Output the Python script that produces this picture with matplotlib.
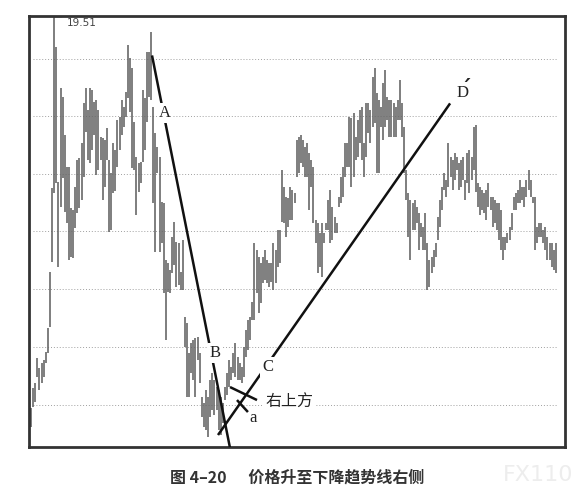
import numpy as np
import matplotlib
matplotlib.use('Agg')
import matplotlib.pyplot as plt

# daily high / low of the bars (left to right)
highs = [
    # run-up and first top
    11.67, 12.07, 12.17, 12.67, 12.47, 12.57, 12.63, 12.79, 13.27, 14.39,
    16.07, 19.51, 18.89, 16.19, 18.07, 17.89, 17.13, 16.49, 16.49, 15.67,
    15.63, 16.09, 16.63, 16.67, 16.97, 17.77, 18.07, 17.63, 18.07, 18.03,
    17.79, 17.83, 17.63, 17.09, 17.07, 17.03, 17.27, 16.63, 16.37, 16.97,
    16.83,
    # second top (A) and the fall to B
    17.43, 17.49, 17.83, 17.69, 17.99, 18.93, 18.67, 18.47, 17.39, 16.69,
    16.57, 16.59, 18.03, 17.87, 18.79, 18.79, 19.19, 17.69, 17.17, 16.89,
    16.69, 15.79, 15.77, 14.63, 14.57, 14.43, 15.09, 15.39, 14.99, 14.97,
    14.39, 15.03, 13.49, 13.37, 12.77, 12.97, 13.03, 13.07, 13.09, 12.77,
    # bottom and break-out (C)
    11.89, 11.77, 12.03, 11.89, 12.23, 12.37, 12.23, 12.09, 12.03, 11.89,
    11.77, 12.09, 12.37, 12.63, 12.49, 12.77, 12.97, 12.69, 12.57, 12.49,
    12.89, 13.23, 13.43, 13.49, 13.79, 14.97, 14.83, 14.69, 14.57, 14.69,
    14.83, 14.63, 14.57, 14.57, 14.97, 14.83, 15.23, 15.23,
    # rise toward D'
    16.43, 16.09, 15.89, 15.87, 16.09, 16.03, 15.97, 17.03, 17.09, 17.13,
    17.03, 16.89, 16.97, 16.77, 16.63, 16.49, 15.43, 15.37, 15.17, 15.37,
    15.17, 15.37, 15.83, 16.03, 15.69, 15.49, 15.37, 15.89, 16.29, 16.49,
    16.97, 16.97, 17.49, 17.47, 17.57, 17.09, 17.43, 17.63, 17.69, 16.97,
    17.77, 17.77, 17.63, 18.29,
    18.47, 17.97, 17.83, 17.69, 18.17, 18.43, 17.89, 17.83, 17.83, 17.77,
    17.69, 17.83, 18.23, 17.77, 17.29, 16.43, 15.97,
    # pull-back
    15.83, 15.77, 15.83, 15.69, 15.57, 15.37, 15.29, 15.57, 14.97, 14.63,
    14.69, 14.83, 14.97, 15.49, 15.83, 16.09, 16.37, 16.23, 16.97, 16.69,
    16.63, 16.77, 16.69, 16.57, 16.63, 16.69,
    # right side
    16.23, 16.77, 16.83, 16.69, 17.29, 17.33, 16.17, 16.09, 16.03, 15.97,
    16.03, 16.17, 15.89, 15.89, 15.83, 15.77, 15.77, 15.63, 15.09, 15.09,
    15.17, 15.29, 15.57, 15.89, 15.97, 16.03, 16.23, 16.09, 16.09, 16.23,
    16.43, 16.23, 15.89, 15.89, 15.29, 15.37, 15.37, 15.23, 15.29, 15.09,
    14.97, 14.97, 14.83, 14.97,
]
lows = [
    11.29, 11.69, 11.79, 12.29, 12.03, 12.17, 12.29, 12.57, 12.77, 13.29,
    14.59, 15.97, 16.17, 14.49, 15.69, 16.27, 15.59, 15.37, 14.63, 14.69,
    14.67, 15.27, 15.57, 15.67, 15.83, 16.29, 17.19, 16.63, 16.57, 16.83,
    17.13, 16.33, 16.43, 16.63, 15.83, 16.09, 16.63, 15.19, 15.23, 15.97,
    16.01,
    16.49, 16.83, 17.13, 17.29, 17.49, 17.87, 17.59, 16.47, 16.43, 15.53,
    15.99, 16.17, 16.59, 16.83, 17.39, 17.89, 17.83, 15.77, 14.79, 16.37,
    14.79, 14.97, 13.97, 13.03, 13.99, 13.97, 14.37, 14.53, 14.09, 14.13,
    14.03, 14.03, 12.89, 11.89, 11.89, 12.37, 12.23, 11.89, 12.63, 12.17,
    11.49, 11.29, 11.23, 11.09, 11.49, 11.63, 11.53, 11.63, 11.23, 11.13,
    11.37, 11.83, 11.93, 12.09, 12.23, 12.37, 12.29, 12.23, 12.23, 12.17,
    12.29, 12.69, 12.83, 13.03, 13.43, 13.43, 13.97, 13.57, 13.77, 14.17,
    14.23, 14.17, 14.09, 14.19, 14.03, 14.17, 14.49, 14.57,
    15.39, 15.37, 15.09, 15.29, 15.43, 15.43, 15.77, 16.29, 16.37, 16.57,
    16.49, 16.29, 16.29, 15.63, 16.09, 15.37, 14.97, 14.37, 14.49, 14.29,
    14.97, 15.23, 15.23, 14.97, 15.03, 15.17, 15.17, 15.69, 15.77, 15.89,
    16.29, 16.49, 16.49, 16.09, 16.29, 16.63, 16.69, 16.97, 16.63, 16.29,
    16.69, 17.17, 16.97, 17.29,
    17.37, 16.37, 16.37, 17.29, 17.03, 17.29, 17.43, 17.09, 17.09, 17.09,
    17.09, 17.43, 17.43, 17.09, 16.37, 15.83, 15.09,
    14.63, 15.23, 15.23, 15.37, 14.83, 15.09, 14.83, 14.83, 14.03, 14.09,
    14.37, 14.49, 14.69, 15.03, 15.29, 15.63, 16.03, 15.89, 16.09, 16.29,
    16.03, 16.23, 16.43, 16.03, 16.09, 16.23,
    15.83, 16.17, 15.97, 16.23, 16.43, 15.99, 15.69, 15.53, 15.63, 15.57,
    15.43, 15.69, 15.63, 15.29, 15.37, 15.23, 15.03, 14.83, 14.63, 14.83,
    14.97, 15.03, 15.23, 15.63, 15.63, 15.77, 15.77, 15.83, 15.69, 15.89,
    16.03, 15.89, 15.77, 14.83, 14.97, 15.09, 15.09, 14.97, 14.83, 14.63,
    14.63, 14.49, 14.43, 14.37,
]
grid_levels = [11.73, 12.89, 14.05, 15.21, 16.35, 17.51, 18.65]

# trend lines drawn on the chart: (bar, price) end points
line_ab = [(57.4, 18.73), (94.4, 10.87)]
line_cd = [(88.7, 11.13), (198.8, 17.77)]
line_cross = [(94.4, 12.09), (107.2, 11.83)]
line_pointer = [(97.7, 11.83), (102.9, 11.59)]

plt.rcParams['font.family'] = ['Noto Sans CJK SC', 'DejaVu Sans']

x = np.arange(len(highs))
fig = plt.figure(figsize=(5.79, 5.01), dpi=100)
ax = fig.add_axes([0.0501, 0.1078, 0.9257, 0.8603])

for g in grid_levels:
    ax.axhline(g, xmin=0.008, xmax=0.985, color='#a0a0a0', lw=0.7, ls=(0, (1, 2)), zorder=0)

ax.vlines(x, lows, highs, color='#626262', lw=1.15, zorder=2)

for seg in [line_ab, line_cd, line_cross, line_pointer]:
    (x0, y0), (x1, y1) = seg
    ax.plot([x0, x1], [y0, y1], color='#111111', lw=1.8, zorder=3,
            solid_capstyle='butt')

serif = dict(family='Liberation Serif', fontsize=12, color='#222222', zorder=5,
             ha='center', va='center')
box = dict(facecolor='white', edgecolor='none', pad=1.5)
ax.text(63.6, 17.57, 'A', bbox=box, **serif)
ax.text(87.3, 12.77, 'B', bbox=box, **serif)
ax.text(112.4, 12.49, 'C', bbox=box, **serif)
ax.text(204.5, 17.97, 'D', bbox=dict(facecolor='white', edgecolor='none', pad=0.5), **serif)
ax.text(206.3, 18.05, '\u02ca', family='DejaVu Sans', fontsize=15, fontweight='bold',
        color='#222222', ha='center', va='center', zorder=5)
ax.text(105.3, 11.47, 'a', bbox=dict(facecolor='none', edgecolor='none'), **serif)
ax.text(111.0, 11.79, '右上方', fontsize=11.5, color='#222222', ha='left', va='center',
        bbox=box, zorder=5)

# peak price label
peak = int(np.argmax(highs))
ax.plot([peak, peak + 3], [highs[peak], highs[peak]], color='#333333', lw=1.0)
ax.annotate(f'{highs[peak]:.2f}', xy=(peak, highs[peak]), xytext=(9, -5),
            textcoords='offset points', fontsize=7.5, color='#444444',
            family='DejaVu Sans', va='center', ha='left')

ax.set_xlim(-0.95, 253.3)
ax.set_ylim(10.89, 19.52)
ax.set_xticks([])
ax.set_yticks([])
for s in ax.spines.values():
    s.set_color('#333333')
    s.set_linewidth(2.0)

fig.text(0.514, 0.046, '图 4–20      价格升至下降趋势线右侧', ha='center', va='center',
         fontsize=11.5, fontweight='bold', color='#333333')
fig.text(0.93, 0.052, 'FX110', ha='center', va='center', fontsize=16,
         color='#ededed', family='DejaVu Sans')

fig.savefig('out.png', dpi=100)
